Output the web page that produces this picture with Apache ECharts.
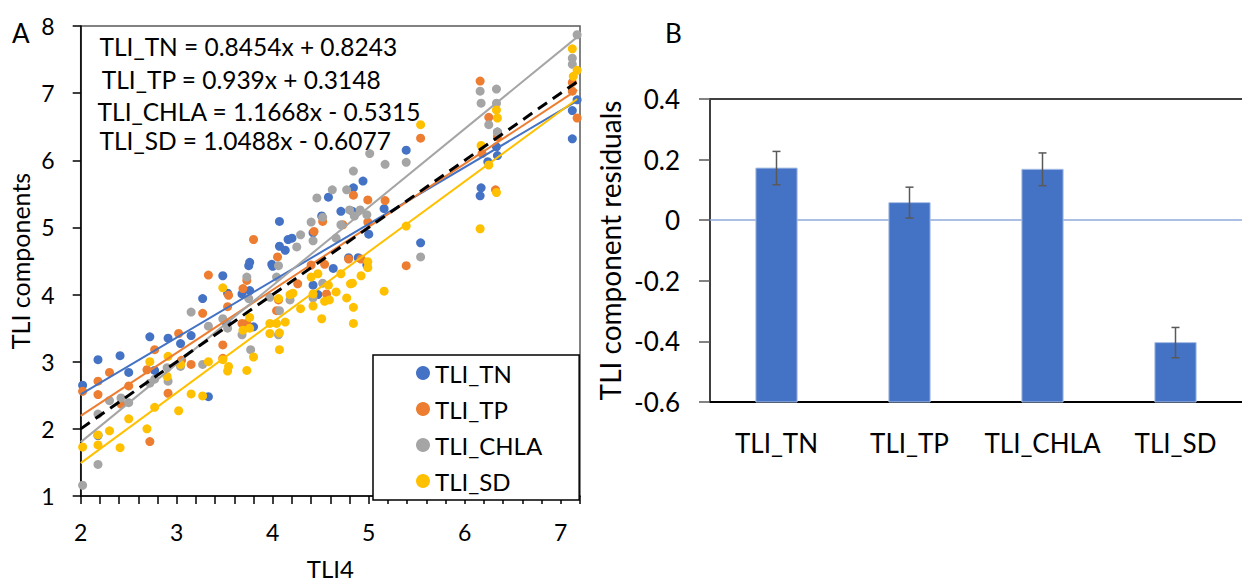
<!DOCTYPE html>
<html><head><meta charset="utf-8">
<script src="https://cdn.jsdelivr.net/npm/echarts@6/dist/echarts.min.js"></script>
<style>html,body{margin:0;padding:0;background:#fff}#c{width:1242px;height:585px}</style>
</head><body><div id="c"></div>
<script>
// ---------- Panel A data ----------
const seriesNames = ['TLI_TN', 'TLI_TP', 'TLI_CHLA', 'TLI_SD'];
const tnPoints = [[2.02,2.65],[2.18,3.03],[2.18,1.90],[2.41,3.09],[2.50,2.84],[2.72,3.37],[2.77,2.87],[2.91,3.35],[3.04,3.27],[3.15,3.39],[3.27,3.94],[3.33,2.48],[3.48,4.28],[3.53,4.02],[3.52,3.57],[3.68,4.01],[3.75,4.43],[3.76,4.48],[3.76,4.06],[3.80,3.52],[3.99,4.45],[4.00,4.42],[4.07,4.72],[4.07,5.09],[4.13,4.66],[4.16,4.82],[4.20,4.84],[4.42,4.92],[4.42,4.14],[4.47,4.00],[4.51,5.17],[4.58,5.45],[4.63,4.39],[4.71,5.24],[4.79,4.55],[4.83,5.24],[4.84,5.59],[4.89,4.55],[4.94,5.69],[4.98,4.44],[5.00,4.90],[5.16,5.28],[5.39,6.15],[5.54,4.77],[6.16,5.47],[6.17,5.59],[6.24,5.98],[6.33,6.20],[6.34,6.07],[6.34,6.42],[7.12,6.32],[7.12,6.74],[7.17,6.90]];
const tpPoints = [[2.02,2.56],[2.18,2.71],[2.18,2.51],[2.30,2.84],[2.42,2.37],[2.50,2.64],[2.69,2.88],[2.72,1.81],[2.77,3.18],[2.91,2.53],[3.02,3.42],[3.05,3.02],[3.15,2.96],[3.27,3.72],[3.33,4.29],[3.48,3.25],[3.48,3.05],[3.53,3.82],[3.54,3.99],[3.68,3.57],[3.69,4.09],[3.73,3.57],[3.73,4.21],[3.80,4.82],[4.04,3.76],[4.05,4.56],[4.06,3.92],[4.26,4.16],[4.40,4.44],[4.43,4.94],[4.52,5.09],[4.54,4.45],[4.56,4.01],[4.73,5.04],[4.79,4.53],[4.84,5.48],[4.92,4.53],[4.99,5.41],[4.99,5.08],[5.17,5.40],[5.39,4.43],[5.54,6.33],[6.16,7.18],[6.18,6.10],[6.25,6.64],[6.32,5.56],[6.34,6.35],[7.12,7.16],[7.12,7.03],[7.17,6.63]];
const chlaPoints = [[2.02,1.16],[2.18,2.22],[2.18,1.47],[2.30,2.42],[2.42,2.46],[2.50,2.39],[2.72,2.68],[2.77,2.74],[2.90,2.91],[2.91,2.71],[3.04,2.93],[3.15,3.74],[3.27,2.96],[3.33,3.53],[3.48,3.64],[3.53,3.50],[3.68,3.40],[3.73,4.26],[3.75,3.94],[3.77,3.18],[3.97,3.96],[4.04,4.26],[4.06,4.43],[4.06,3.40],[4.07,3.76],[4.18,3.92],[4.25,4.71],[4.29,4.89],[4.40,5.08],[4.42,4.80],[4.42,3.95],[4.46,5.44],[4.52,5.15],[4.52,4.17],[4.62,5.56],[4.66,4.84],[4.71,5.04],[4.77,5.56],[4.80,5.26],[4.84,5.84],[4.85,5.17],[4.91,5.26],[4.98,5.19],[5.01,6.10],[5.17,5.94],[5.39,5.97],[5.54,4.56],[6.16,7.03],[6.17,6.85],[6.25,6.53],[6.33,7.06],[6.33,6.85],[6.34,6.42],[7.12,7.52],[7.12,7.43],[7.17,7.87]];
const sdPoints = [[2.02,1.73],[2.18,1.91],[2.18,1.76],[2.30,1.97],[2.41,1.72],[2.50,2.15],[2.69,2.00],[2.72,3.00],[2.77,2.32],[2.91,3.08],[2.90,2.78],[3.02,2.27],[3.04,2.96],[3.15,2.52],[3.27,2.49],[3.33,3.00],[3.48,3.03],[3.48,4.10],[3.54,2.93],[3.53,2.86],[3.69,3.47],[3.73,2.87],[3.76,3.50],[3.76,3.66],[3.80,3.07],[3.97,3.57],[3.97,3.42],[4.04,3.57],[4.06,3.94],[4.07,3.43],[4.07,3.18],[4.13,3.59],[4.18,4.00],[4.21,4.02],[4.29,3.79],[4.40,4.26],[4.42,4.01],[4.42,3.83],[4.47,4.31],[4.51,3.64],[4.54,3.90],[4.58,4.14],[4.59,3.92],[4.66,4.04],[4.71,4.31],[4.77,3.95],[4.81,4.16],[4.83,4.17],[4.84,3.81],[4.84,3.57],[4.92,4.28],[4.99,4.40],[4.99,4.49],[5.16,4.05],[5.39,5.02],[5.54,6.53],[6.16,4.98],[6.17,6.22],[6.25,5.93],[6.33,5.52],[6.33,6.75],[6.34,6.63],[7.12,7.66],[7.13,7.25],[7.17,7.34]];
const trendSlopes = [0.8454, 0.939, 1.1668, 1.0488];
const trendIntercepts = [0.8243, 0.3148, -0.5315, -0.6077];
const trendRange = [2, 7.17];
const oneToOneRange = [2, 7.17];
const equationLabels = ['TLI_TN = 0.8454x + 0.8243', 'TLI_TP = 0.939x + 0.3148', 'TLI_CHLA = 1.1668x - 0.5315', 'TLI_SD = 1.0488x - 0.6077'];

// ---------- Panel B data ----------
const residualCategories = ['TLI_TN', 'TLI_TP', 'TLI_CHLA', 'TLI_SD'];
const residualValues = [0.172, 0.058, 0.168, -0.404];
const residualErrors = [0.055, 0.051, 0.054, 0.050];

const FONT = 'Lato';
const colors = ['#4472C4', '#ED7D31', '#A5A5A5', '#FFC000'];
const pointSets = [tnPoints, tpPoints, chlaPoints, sdPoints];
const B_MIN = -0.6, B_MAX = 0.4;

const chart = echarts.init(document.getElementById('c'), null, {renderer: 'svg'});

const series = [];
pointSets.forEach((pts, i) => {
  series.push({
    name: seriesNames[i], type: 'scatter', xAxisIndex: 0, yAxisIndex: 0,
    data: pts, symbol: 'circle', symbolSize: 9,
    itemStyle: {color: colors[i], opacity: 1}, z: 2
  });
});
trendSlopes.forEach((m, i) => {
  const b = trendIntercepts[i];
  series.push({
    name: seriesNames[i] + ' trend', type: 'line', xAxisIndex: 0, yAxisIndex: 0,
    data: trendRange.map(x => [x, m * x + b]), showSymbol: false, symbol: 'none',
    lineStyle: {color: colors[i], width: 2}, z: 3, silent: true
  });
});
series.push({
  name: '1:1', type: 'line', xAxisIndex: 0, yAxisIndex: 0,
  data: oneToOneRange.map(x => [x, x]), showSymbol: false, symbol: 'none',
  lineStyle: {color: '#000', width: 3, type: [11, 7]}, z: 4, silent: true
});
series.push({
  name: 'residual', type: 'custom', xAxisIndex: 1, yAxisIndex: 1,
  data: residualValues.map((v, i) => [i, v]),
  encode: {x: 0, y: 1}, z: 2,
  renderItem: function (params, api) {
    const i = api.value(0), v = api.value(1);
    const top = api.coord([i, v]);
    const base = api.coord([i, B_MIN]);
    const w = api.size([1, 0])[0] * 0.31;
    return {
      type: 'rect',
      shape: {x: top[0] - w / 2, y: top[1], width: w, height: base[1] - top[1]},
      style: {fill: '#4472C4', stroke: '#A9BFE6', lineWidth: 1}
    };
  },
  markLine: {
    silent: true, symbol: 'none', z: 1,
    label: {show: false},
    lineStyle: {color: '#8FAADC', width: 1.5, type: 'solid'},
    data: [{yAxis: 0}]
  }
});
series.push({
  name: 'error', type: 'custom', xAxisIndex: 1, yAxisIndex: 1,
  data: residualValues.map((v, i) => [i, v, residualErrors[i]]),
  encode: {x: 0, y: 1}, z: 5,
  renderItem: function (params, api) {
    const i = api.value(0), v = api.value(1), e = api.value(2);
    const hi = api.coord([i, v + e]);
    const lo = api.coord([i, v - e]);
    const cap = 4;
    const st = {stroke: '#595959', lineWidth: 1.5};
    return {
      type: 'group',
      children: [
        {type: 'line', shape: {x1: hi[0], y1: hi[1], x2: lo[0], y2: lo[1]}, style: st},
        {type: 'line', shape: {x1: hi[0] - cap, y1: hi[1], x2: hi[0] + cap, y2: hi[1]}, style: st},
        {type: 'line', shape: {x1: lo[0] - cap, y1: lo[1], x2: lo[0] + cap, y2: lo[1]}, style: st}
      ]
    };
  }
});

const EQ_SIZE = 24.5;
const option = {
  backgroundColor: '#fff',
  animation: false,
  textStyle: {fontFamily: FONT, color: '#000'},
  grid: [
    {left: 80.7, top: 26, width: 499.3, height: 475, show: true, borderColor: '#595959', borderWidth: 1.5, backgroundColor: 'transparent'},
    {left: 710, top: 99, width: 545, height: 303}
  ],
  xAxis: [
    {
      gridIndex: 0, type: 'value', min: 2, max: 7.2, interval: 1,
      axisLine: {show: true, onZero: false, lineStyle: {color: '#000', width: 1.5}},
      axisTick: {show: true, inside: false, length: 8, lineStyle: {color: '#000', width: 1.5}},
      minorTick: {show: true, splitNumber: 5, length: 8, lineStyle: {color: '#000', width: 1.5}},
      splitLine: {show: false}, minorSplitLine: {show: false},
      axisLabel: {fontSize: 23, margin: 24, color: '#000', fontFamily: FONT, showMaxLabel: false},
      name: 'TLI4', nameLocation: 'middle', nameGap: 60,
      nameTextStyle: {fontSize: 24, color: '#000', fontFamily: FONT}
    },
    {
      gridIndex: 1, type: 'category', data: residualCategories, boundaryGap: true,
      axisLine: {show: true, onZero: false, lineStyle: {color: '#000', width: 2}},
      axisTick: {show: false},
      axisLabel: {fontSize: 26, margin: 28, color: '#000', fontFamily: FONT, interval: 0, hideOverlap: false},
      splitLine: {show: false}
    },
    {
      gridIndex: 1, type: 'category', data: residualCategories, position: 'top',
      axisLine: {show: true, onZero: false, lineStyle: {color: '#404040', width: 2}},
      axisTick: {show: false}, axisLabel: {show: false}, splitLine: {show: false}
    }
  ],
  yAxis: [
    {
      gridIndex: 0, type: 'value', min: 1, max: 8, interval: 1,
      axisLine: {show: true, onZero: false, lineStyle: {color: '#000', width: 1.5}},
      axisTick: {show: true, inside: false, length: 8, lineStyle: {color: '#000', width: 1.5}},
      splitLine: {show: false},
      axisLabel: {fontSize: 23, margin: 26, color: '#000', fontFamily: FONT},
      name: 'TLI components', nameLocation: 'middle', nameGap: 48,
      nameTextStyle: {fontSize: 25, color: '#000', fontFamily: FONT}
    },
    {
      gridIndex: 1, type: 'value', min: B_MIN, max: B_MAX, interval: 0.2,
      axisLine: {show: true, onZero: false, lineStyle: {color: '#000', width: 1.5}},
      axisTick: {show: true, inside: false, length: 11, lineStyle: {color: '#595959', width: 1.5}},
      splitLine: {show: false},
      axisLabel: {fontSize: 26, margin: 30, color: '#000', fontFamily: FONT,
        formatter: v => String(Math.round(v * 10) / 10)},
      name: 'TLI component residuals', nameLocation: 'middle', nameGap: 86,
      nameTextStyle: {fontSize: 28, color: '#000', fontFamily: FONT}
    }
  ],
  legend: {
    data: seriesNames, orient: 'vertical', left: 373, top: 355,
    padding: [6, 37, 7, 43], itemGap: 12, itemWidth: 14, itemHeight: 14,
    icon: 'circle', borderColor: '#000', borderWidth: 1.5, backgroundColor: '#fff',
    textStyle: {fontSize: 24, lineHeight: 24, color: '#000', fontFamily: FONT},
    selectedMode: false
  },
  graphic: [
    {type: 'text', x: 12, y: 33, style: {text: 'A', fontSize: 26, fontFamily: FONT, fill: '#000', verticalAlign: 'middle'}},
    {type: 'text', x: 665, y: 33, style: {text: 'B', fontSize: 26, fontFamily: FONT, fill: '#000', verticalAlign: 'middle'}},
    {type: 'text', x: 99.5, y: 46, style: {text: equationLabels[0], fontSize: EQ_SIZE, fontFamily: FONT, fill: '#000', verticalAlign: 'middle'}},
    {type: 'text', x: 101.8, y: 79, style: {text: equationLabels[1], fontSize: EQ_SIZE, fontFamily: FONT, fill: '#000', verticalAlign: 'middle'}},
    {type: 'text', x: 97.6, y: 111, style: {text: equationLabels[2], fontSize: EQ_SIZE, fontFamily: FONT, fill: '#000', verticalAlign: 'middle'}},
    {type: 'text', x: 99.5, y: 140, style: {text: equationLabels[3], fontSize: EQ_SIZE, fontFamily: FONT, fill: '#000', verticalAlign: 'middle'}}
  ],
  series: series
};
chart.setOption(option);
</script>
</body></html>
